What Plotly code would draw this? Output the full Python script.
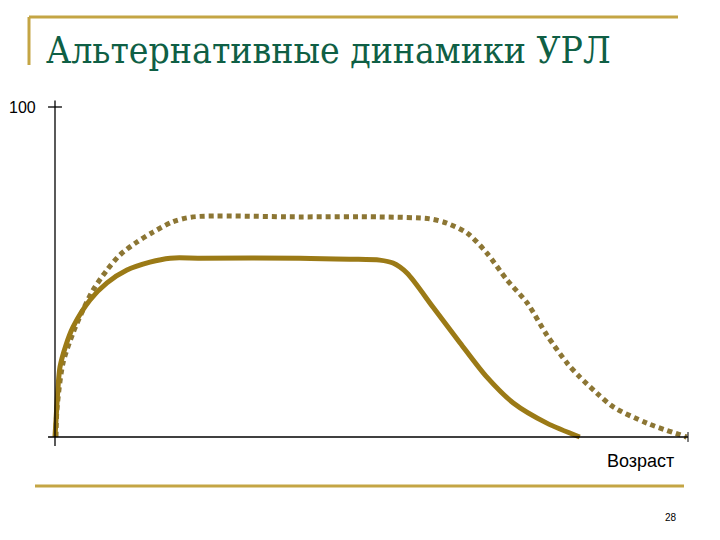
import plotly.graph_objects as go

# --- data ---
solid_x = [0, 0.16, 0.79, 1.74, 2.84, 5.53, 8.21, 11.37, 15.0, 18.2, 22.9, 38.7, 46.6, 51.3, 53.4, 55.6, 59.7, 64.0, 68.2, 72.4, 77.7, 82.9]
solid_y = [0, 5.2, 21.2, 27.9, 33.3, 41.5, 46.7, 50.6, 53.0, 54.2, 54.2, 54.2, 53.9, 53.6, 52.7, 49.7, 39.4, 28.5, 18.2, 10.3, 4.2, 0]

dotted_x = [0.16, 0.3, 1.26, 2.84, 4.42, 6.0, 8.21, 10.27, 12.95, 15.5, 18.6, 21.8, 38.7, 51.3, 59.2, 61.9, 65.1, 68.2, 71.4, 74.6, 77.7, 80.9, 82.9, 85.6, 88.2, 93.5, 99.8]
dotted_y = [0, 8.2, 22.4, 31.5, 38.5, 44.5, 50.6, 55.2, 59.1, 62.1, 65.2, 66.7, 66.7, 66.7, 66.1, 64.8, 61.8, 55.8, 47.6, 40.6, 30.9, 22.4, 18.2, 13.3, 9.1, 4.2, 0]

title_text = "Альтернативные динамики УРЛ"
y_tick_label = "100"
x_axis_label = "Возраст"
page_number = "28"

# --- geometry helpers (pixel layout of the slide) ---
OFF = 8  # page body offset in the browser
W, H = 720, 540
L, R, T, B = 48 - OFF, 28 + OFF, 100 - OFF, 93 + OFF
PW, PH = W - L - R, H - T - B

def px(xp):
    return (xp - OFF - L) / PW

def py(yp):
    return (H - B - (yp - OFF)) / PH

GOLD = "#C4A544"
SOLID = "#9B7A16"
DOTTED = "#8C7634"

fig = go.Figure()
fig.add_trace(go.Scatter(x=dotted_x, y=dotted_y, mode="lines",
                         line=dict(color=DOTTED, width=5, dash="5px,4px", shape="spline", smoothing=0.8),
                         hoverinfo="skip"))
fig.add_trace(go.Scatter(x=solid_x, y=solid_y, mode="lines",
                         line=dict(color=SOLID, width=5, shape="spline", smoothing=0.8),
                         hoverinfo="skip"))

shapes = [
    # axes
    dict(type="line", xref="x", yref="y", x0=0, x1=0, y0=-2.7, y1=102, line=dict(color="black", width=1.3)),
    dict(type="line", xref="x", yref="y", x0=-1.1, x1=100, y0=0, y1=0, line=dict(color="black", width=1.3)),
    dict(type="line", xref="x", yref="y", x0=-1.1, x1=1.1, y0=100, y1=100, line=dict(color="black", width=1.3)),
    dict(type="line", xref="x", yref="y", x0=100, x1=100, y0=-1.5, y1=1.5, line=dict(color="black", width=1)),
    # slide decorations
    dict(type="line", xref="paper", yref="paper", x0=px(29), x1=px(678), y0=py(17), y1=py(17), line=dict(color=GOLD, width=3)),
    dict(type="line", xref="paper", yref="paper", x0=px(29), x1=px(29), y0=py(17), y1=py(65), line=dict(color=GOLD, width=3)),
    dict(type="line", xref="paper", yref="paper", x0=px(35), x1=px(684), y0=py(486), y1=py(486), line=dict(color=GOLD, width=3)),
]

annotations = [
    dict(text=title_text, xref="paper", yref="paper", x=px(44), y=py(51), xanchor="left", yanchor="middle",
         showarrow=False, font=dict(family="DejaVu Serif Condensed, DejaVu Serif, serif", size=37, color="#0F5F45")),
    dict(text=y_tick_label, xref="paper", yref="paper", x=px(38), y=py(107), xanchor="right", yanchor="middle",
         showarrow=False, font=dict(family="Liberation Sans, Arial", size=16, color="black")),
    dict(text=x_axis_label, xref="paper", yref="paper", x=px(640), y=py(461), xanchor="center", yanchor="middle",
         showarrow=False, font=dict(family="Liberation Sans, Arial", size=18, color="black")),
    dict(text=page_number, xref="paper", yref="paper", x=px(671), y=py(517), xanchor="center", yanchor="middle",
         showarrow=False, font=dict(family="Liberation Sans, Arial", size=10, color="black")),
]

fig.update_layout(
    width=W, height=H,
    margin=dict(l=L, r=R, t=T, b=B),
    paper_bgcolor="white", plot_bgcolor="white",
    showlegend=False,
    shapes=shapes, annotations=annotations,
    xaxis=dict(range=[(48 - 55) / 6.33, (692 - 55) / 6.33], visible=False, fixedrange=True),
    yaxis=dict(range=[(437 - 447) / 3.3, (437 - 100) / 3.3], visible=False, fixedrange=True),
)

fig.write_html("out.html")
